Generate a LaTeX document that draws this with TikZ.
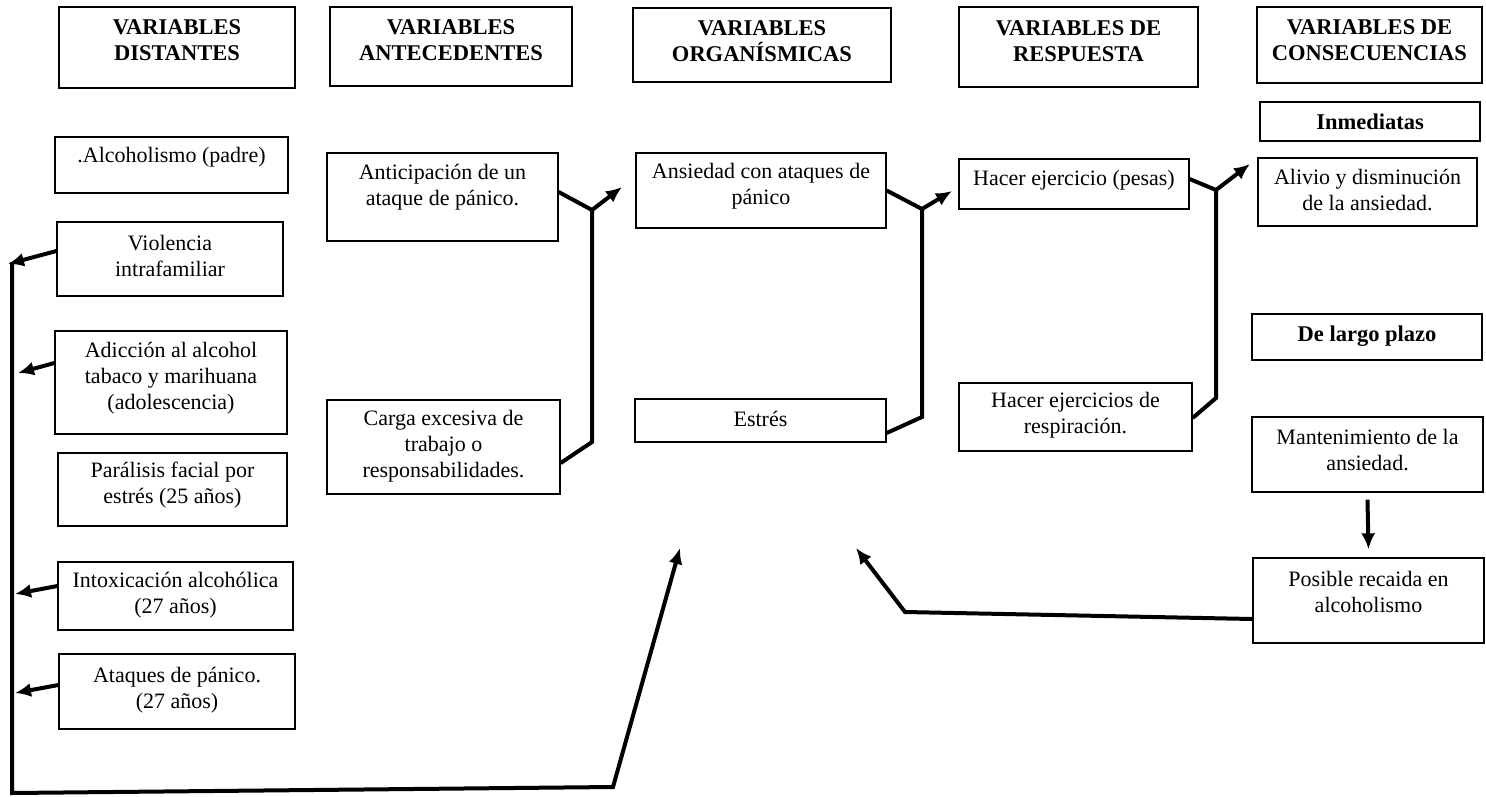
\documentclass[tikz,border=0pt]{standalone}
\usepackage{fontspec}
\setmainfont{Liberation Serif}
\usetikzlibrary{arrows.meta}

\tikzset{
  hdrbox/.style={draw, line width=2.4pt, inner sep=0pt},
  plainbox/.style={draw, line width=1.3pt, inner sep=0pt},
  txt/.style={align=center, inner sep=0pt, font=\fontsize{22}{26}\selectfont},
  hdrtxt/.style={align=center, inner sep=0pt, font=\fontsize{22.5}{26}\selectfont\bfseries},
  link/.style={line width=4pt, line join=miter},
  arr/.style={link, -{Latex[length=16pt,width=14pt]}},
}

% box: box style, text style, name, x1, y1, x2, y2, text centre y, text
\newcommand{\labbox}[9]{%
  \node[#1, minimum width={(#6-#4)*1pt}, minimum height={(#7-#5)*1pt}]
    (#3) at ({(#4+#6)/2},{(#5+#7)/2}) {};
  \node[#2] (#3-t) at ({(#4+#6)/2},#8) {#9};
}

\begin{document}
\begin{tikzpicture}[x=1pt,y=-1pt]
\useasboundingbox (0,0) rectangle (1486,796);

% column headers
\labbox{hdrbox}{hdrtxt}{hd1}{59}{7}{295}{88}{40}{VARIABLES\\DISTANTES}
\labbox{hdrbox}{hdrtxt}{hd2}{330}{7}{572}{86}{40}{VARIABLES\\ANTECEDENTES}
\labbox{hdrbox}{hdrtxt}{hd3}{633}{8}{891}{82}{41}{VARIABLES\\ORGANÍSMICAS}
\labbox{hdrbox}{hdrtxt}{hd4}{959}{7}{1198}{87}{41}{VARIABLES DE\\RESPUESTA}
\labbox{hdrbox}{hdrtxt}{hd5}{1257}{7}{1482}{83}{40}{VARIABLES DE\\CONSECUENCIAS}
\labbox{hdrbox}{hdrtxt}{inm}{1260}{102}{1480}{141}{122}{Inmediatas}
\labbox{hdrbox}{hdrtxt}{lpz}{1252}{314}{1482}{360}{336}{De largo plazo}

% distant variables
\labbox{plainbox}{txt}{d1}{55}{137}{288}{193}{157}{.Alcoholismo (padre)}
\labbox{plainbox}{txt}{d2}{57}{222}{283}{296}{256}{Violencia\\intrafamiliar}
\labbox{plainbox}{txt}{d3}{55}{331}{287}{434}{378}{Adicción al alcohol\\tabaco y marihuana\\(adolescencia)}
\labbox{plainbox}{txt}{d4}{58}{453}{287}{526}{485}{Parálisis facial por\\estrés (25 años)}
\labbox{plainbox}{txt}{d5}{58}{562}{293}{630}{595}{Intoxicación alcohólica\\(27 años)}
\labbox{plainbox}{txt}{d6}{59}{654}{295}{729}{690}{Ataques de pánico.\\(27 años)}

% antecedent variables
\labbox{plainbox}{txt}{a1}{327}{153}{558}{241}{187}{Anticipación de un\\ataque de pánico.}
\labbox{plainbox}{txt}{a2}{327}{400}{560}{494}{446}{Carga excesiva de\\trabajo o\\responsabilidades.}

% organismic variables
\labbox{plainbox}{txt}{o1}{636}{153}{886}{228}{186}{Ansiedad con ataques de\\pánico}
\labbox{plainbox}{txt}{o2}{635}{399}{886}{442}{419}{Estrés}

% response variables
\labbox{plainbox}{txt}{r1}{959}{159}{1189}{209}{180}{Hacer ejercicio (pesas)}
\labbox{plainbox}{txt}{r2}{959}{383}{1192}{451}{415}{Hacer ejercicios de\\respiración.}

% consequences
\labbox{plainbox}{txt}{c1}{1258}{158}{1477}{226}{190}{Alivio y disminución\\de la ansiedad.}
\labbox{plainbox}{txt}{c2}{1252}{417}{1483}{492}{450}{Mantenimiento de la\\ansiedad.}
\labbox{plainbox}{txt}{c3}{1253}{558}{1484}{643}{592}{Posible recaida en\\alcoholismo}

% junctions and bends
\coordinate (j1) at (592,210);
\coordinate (k1) at (592,442);
\coordinate (t1) at (622,187);
\coordinate (j2) at (922,209);
\coordinate (k2) at (922,417);
\coordinate (t2) at (952,191);
\coordinate (j3) at (1216,190);
\coordinate (k3) at (1216,398);
\coordinate (t3) at (1250,164);

% antecedents -> organismic
\draw[link] ([yshift=5pt]a1.east) -- (j1);
\draw[link] ([yshift=-16pt]a2.east) -- (k1) -- (j1);
\draw[arr] (j1) -- (t1);

% organismic -> response
\draw[link] (o1.east) -- (j2);
\draw[link] ([yshift=-12.5pt]o2.east) -- (k2) -- (j2);
\draw[arr] (j2) -- (t2);

% response -> consequences
\draw[link] ([yshift=5pt]r1.east) -- (j3);
\draw[link] ([yshift=-1pt]r2.east) -- (k3) -- (j3);
\draw[arr] (j3) -- (t3);

% long-term chain
\draw[arr] ([yshift=-7pt]c2.south) -- ([yshift=8pt]c3.north);

% relapse back to the organismic column
\coordinate (rb) at (905,612);
\coordinate (rt) at (856,548);
\draw[arr] ([yshift=-18.5pt]c3.west) -- (rb) -- (rt);

% distant variables feed the left rail
\coordinate (rtop) at (12,262);
\coordinate (rbot) at (12,793);
\coordinate (bmid) at (613,787);
\coordinate (btip) at (680,548);
\draw[arr] (rtop) -- (rbot) -- (bmid) -- (btip);

\coordinate (e2) at (8,264);
\coordinate (e3) at (18,373);
\coordinate (e5) at (15,594);
\coordinate (e6) at (15,693);
\draw[arr] ([yshift=8pt]d2.west) -- (e2);
\draw[arr] ([yshift=19.5pt]d3.west) -- (e3);
\draw[arr] ([yshift=10pt]d5.west) -- (e5);
\draw[arr] ([yshift=6.5pt]d6.west) -- (e6);
\end{tikzpicture}
\end{document}
